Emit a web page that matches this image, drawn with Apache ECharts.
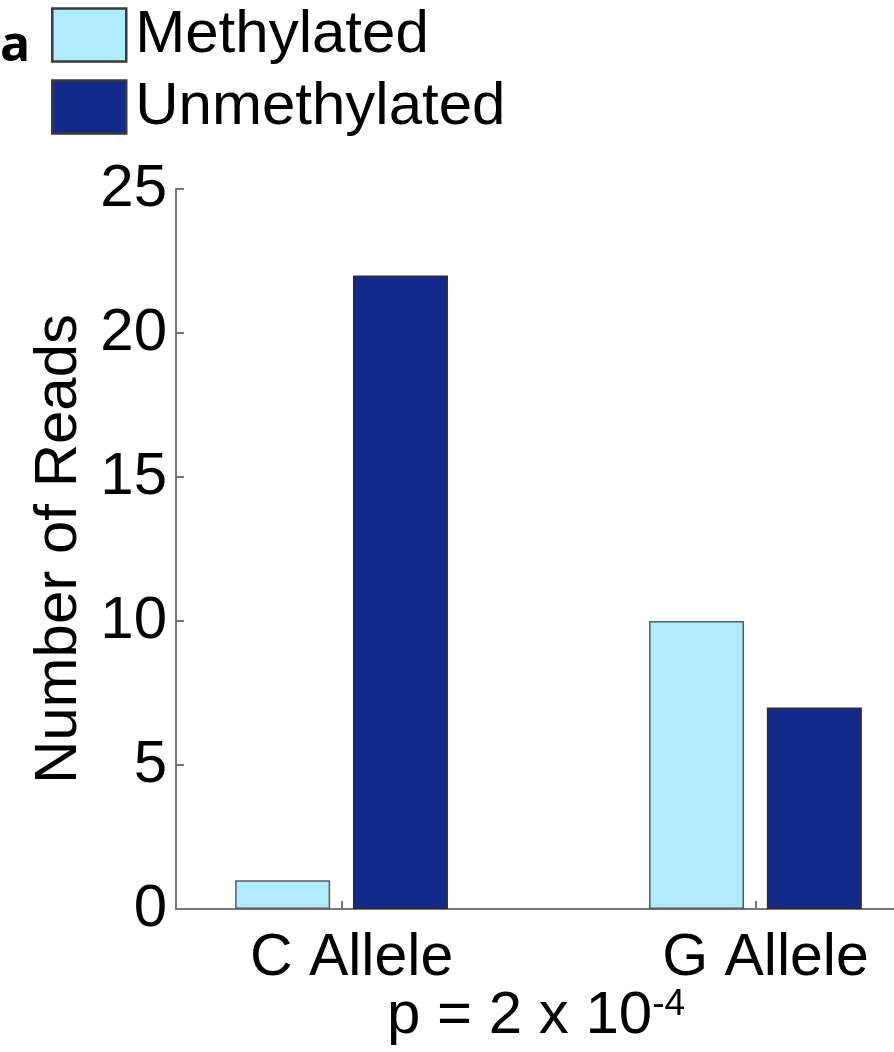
<!DOCTYPE html>
<html>
<head>
<meta charset="utf-8">
<title>Number of Reads by Allele</title>
<script src="https://cdn.jsdelivr.net/npm/echarts@6/dist/echarts.min.js"></script>
<style>
  html, body { margin: 0; padding: 0; background: #fff; }
  #chart { width: 894px; height: 1052px; }
</style>
</head>
<body>
<div id="chart"></div>
<script>
// Alleles and their positions on the x axis
const categories = ['C Allele', 'G Allele'];
const positions = [1, 2];

// Read counts per allele
const methylated = [1, 10];
const unmethylated = [22, 7];

// Y axis range
const yMin = 0;
const yMax = 25;
const yStep = 5;

const FONT = '"Liberation Sans", Arial, sans-serif';
const LIGHT = '#aeebfc';
const DARK = '#142a8a';
const EDGE = '#5a5a5a';

const chart = echarts.init(document.getElementById('chart'), null, { renderer: 'canvas' });

const toPairs = vals => positions.map((p, i) => [p, vals[i]]);

chart.setOption({
  animation: false,
  backgroundColor: '#fff',
  textStyle: { fontFamily: FONT },
  grid: {
    left: 176, right: -27, top: 189, bottom: 143,
    containLabel: false,
    outerBoundsMode: 'none'
  },
  legend: {
    orient: 'vertical',
    left: 51, top: 5,
    padding: 0,
    itemWidth: 74, itemHeight: 53,
    itemGap: 12,
    icon: 'rect',
    selectedMode: false,
    textStyle: { fontFamily: FONT, fontSize: 60, color: '#000', padding: [8, 0, 0, 4] },
    itemStyle: { borderColor: '#3a3a3a', borderWidth: 2.5 },
    data: ['Methylated', 'Unmethylated']
  },
  xAxis: {
    type: 'value',
    min: 0.6, max: 2.4,
    splitLine: { show: false },
    axisLine: { show: true, onZero: false, lineStyle: { color: '#777', width: 2 } },
    axisTick: { show: true, inside: true, length: 8, customValues: positions, lineStyle: { color: '#777', width: 2 } },
    axisLabel: {
      customValues: positions,
      formatter: v => categories[positions.indexOf(v)] || '',
      fontFamily: FONT, fontSize: 59, color: '#000',
      margin: 20,
      padding: [0, 0, 0, 20]
    }
  },
  yAxis: {
    type: 'value',
    min: yMin, max: yMax, interval: yStep,
    splitLine: { show: false },
    axisLine: { show: true, lineStyle: { color: '#777', width: 2 } },
    axisTick: { show: true, inside: true, length: 8, lineStyle: { color: '#777', width: 2 } },
    axisLabel: { fontFamily: FONT, fontSize: 60, color: '#000', margin: 9 },
    name: 'Number of Reads',
    nameLocation: 'middle',
    nameGap: 86,
    nameRotate: 90,
    nameTextStyle: { fontFamily: FONT, fontSize: 60, color: '#000' }
  },
  series: [
    {
      name: 'Methylated',
      type: 'bar',
      data: toPairs(methylated),
      barWidth: 95,
      barGap: '24%',
      itemStyle: { color: LIGHT, borderColor: EDGE, borderWidth: 1.5 }
    },
    {
      name: 'Unmethylated',
      type: 'bar',
      data: toPairs(unmethylated),
      barWidth: 95,
      barGap: '24%',
      itemStyle: { color: DARK, borderColor: '#2b2b3a', borderWidth: 1.5 }
    }
  ],
  graphic: [
    {
      type: 'text',
      x: 0, y: 22,
      style: {
        text: '{b|a}',
        fill: '#000',
        rich: { b: { fontFamily: '"Open Sans", "Liberation Sans", sans-serif', fontWeight: 'bold', fontSize: 50, lineHeight: 50 } }
      }
    },
    {
      type: 'text',
      x: 387, y: 986,
      style: {
        text: '{m|p = 2 x 10}{s|-4}',
        fill: '#000',
        rich: {
          m: { fontFamily: FONT, fontSize: 60, lineHeight: 60, verticalAlign: 'bottom' },
          s: { fontFamily: FONT, fontSize: 37, lineHeight: 24, verticalAlign: 'top' }
        }
      }
    }
  ]
});
</script>
</body>
</html>
